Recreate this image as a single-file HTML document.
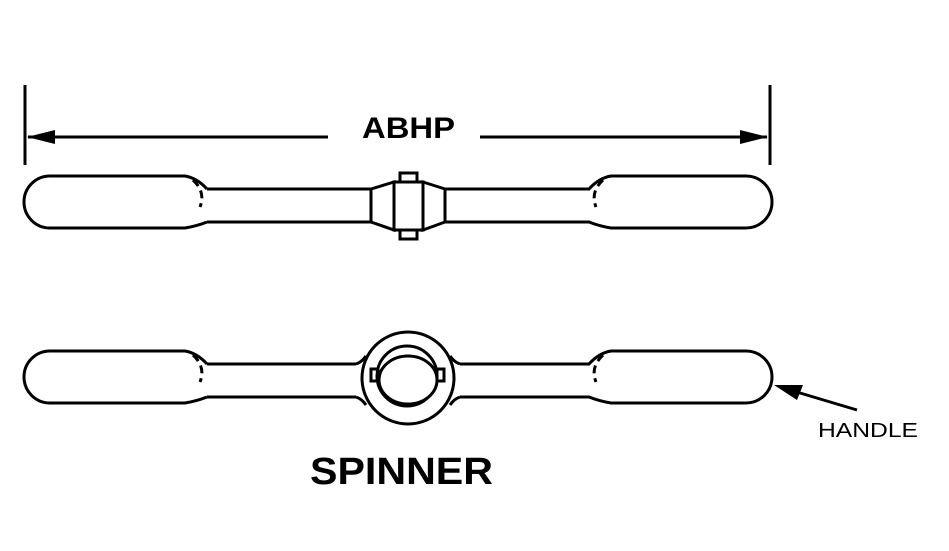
<!DOCTYPE html>
<html><head><style>
html,body{margin:0;padding:0;background:#fff;}
svg{display:block;}
text{font-family:"Liberation Sans",Arial,sans-serif;font-weight:bold;fill:#000;}
</style></head><body>
<svg width="949" height="551" viewBox="0 0 949 551" xmlns="http://www.w3.org/2000/svg">
<defs>
<g id="grip" fill="none" stroke="#000" stroke-width="3">
<path d="M207,0 Q197,-11 185,-13 L50,-13 A26,26 0 0 0 50,39 L185,39 Q197,37 207,33"/>
<path d="M193,-9 Q206,3 200,18" stroke-dasharray="8,5"/>
</g>
</defs>
<g stroke="#000" stroke-width="3" fill="none">
<line x1="25" y1="85" x2="25" y2="165"/>
<line x1="770" y1="85" x2="770" y2="165"/>
<line x1="28" y1="137" x2="328" y2="137"/>
<line x1="480" y1="137" x2="767" y2="137"/>
</g>
<polygon points="27,137 55,130 55,144" fill="#000"/>
<polygon points="768,137 740,130 740,144" fill="#000"/>
<text x="362" y="138" font-size="30" textLength="93" lengthAdjust="spacingAndGlyphs">ABHP</text>
<g transform="translate(0,189)"><use href="#grip"/></g>
<g transform="translate(796,189) scale(-1,1)"><use href="#grip"/></g>
<g stroke="#000" stroke-width="3" fill="none">
<line x1="207" y1="189" x2="371" y2="189"/><line x1="207" y1="222" x2="371" y2="222"/>
<line x1="445" y1="189" x2="590" y2="189"/><line x1="445" y1="222" x2="590" y2="222"/>
<path d="M371,189 L394,182 L394,230 L371,222 Z"/>
<path d="M445,189 L423,182 L423,230 L445,222 Z"/>
<rect x="394" y="182" width="29" height="48"/>
<rect x="400" y="173" width="17" height="9"/>
<rect x="400" y="230" width="17" height="9"/>
</g>
<g transform="translate(0,364)"><use href="#grip"/></g>
<g transform="translate(796,364) scale(-1,1)"><use href="#grip"/></g>
<g stroke="#000" stroke-width="3" fill="none">
<line x1="207" y1="364" x2="356" y2="364"/><line x1="207" y1="397" x2="356" y2="397"/>
<line x1="460" y1="364" x2="590" y2="364"/><line x1="460" y1="397" x2="590" y2="397"/>
<path d="M356,364 Q362,362 366,356"/><path d="M356,397 Q362,399 366,405"/>
<path d="M460,364 Q454,362 450,356"/><path d="M460,397 Q454,399 450,405"/>
<circle cx="408" cy="378" r="46" fill="#fff"/>
<circle cx="407" cy="376" r="30"/>
<ellipse cx="408" cy="380" rx="29" ry="24" fill="#fff"/>
<rect x="371" y="369" width="7" height="12"/>
<rect x="437" y="369" width="7" height="12"/>
</g>
<line x1="857" y1="410" x2="790" y2="390" stroke="#000" stroke-width="3"/>
<polygon points="774,385 803,385 797,400" fill="#000"/>
<text x="818" y="437" font-size="20" style="font-weight:normal" textLength="100" lengthAdjust="spacingAndGlyphs">HANDLE</text>
<text x="310" y="484" font-size="38" textLength="183" lengthAdjust="spacingAndGlyphs">SPINNER</text>
</svg>
</body></html>
